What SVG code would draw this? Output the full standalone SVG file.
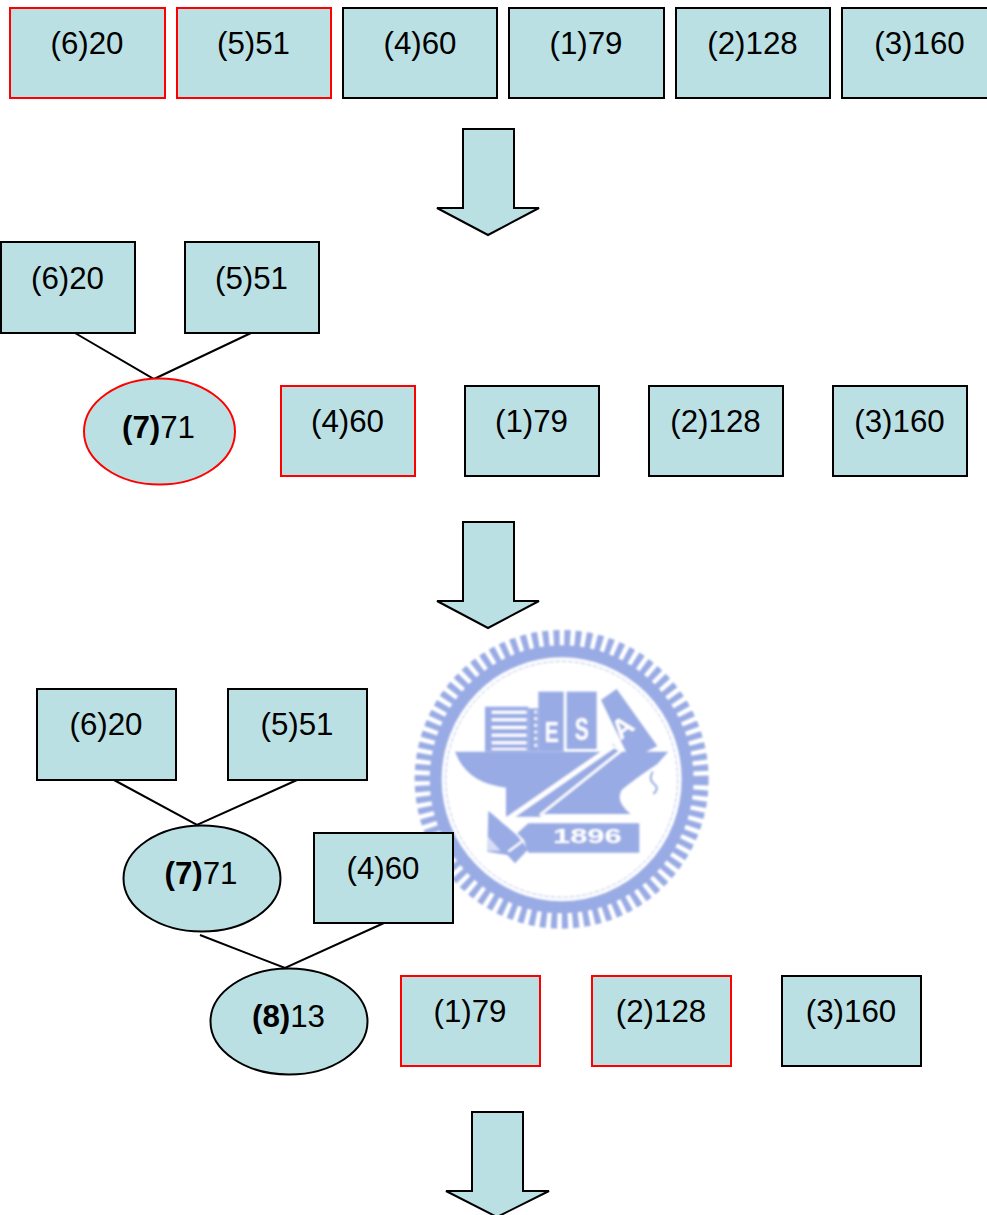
<svg xmlns="http://www.w3.org/2000/svg" width="987" height="1215" viewBox="0 0 987 1215">
<style>
.n{fill:#bbe0e3;stroke:#000;stroke-width:2}
.r{fill:#bbe0e3;stroke:#f00;stroke-width:2}
.t{font-family:"Liberation Sans",Arial,sans-serif;font-size:31.3px;fill:#000;text-anchor:middle}
.b{font-weight:700}
.c{fill:none;stroke:#000;stroke-width:2}
.m{fill:#99abe4}
.w{font-family:"Liberation Sans",Arial,sans-serif;fill:#fff;font-weight:700;text-anchor:middle}
</style>
<defs><filter id="soft" x="-5%" y="-5%" width="110%" height="110%"><feGaussianBlur stdDeviation="2.500"/></filter></defs>
<rect width="987" height="1215" fill="#fff"/>
<g id="watermark" transform="translate(400 620) scale(.3333)" filter="url(#soft)">
<g fill="none" stroke="#99abe4">
<ellipse cx="485" cy="478" rx="416" ry="423" stroke-width="50" stroke-dasharray="18 14"/>
<ellipse cx="485" cy="478" rx="378" ry="384" stroke-width="36"/>
<ellipse cx="485" cy="478" rx="348" ry="354" stroke-width="3" stroke-dasharray="14 5" opacity=".7"/>
</g>
<path class="m" d="M165 395H805L772 432Q700 480 665 510Q645 545 692 582H420L318 590V503Q200 490 165 395Z"/>
<rect class="m" x="255" y="260" width="130" height="135"/>
<path fill="#fff" d="M275 272h105v9h-105zM275 295h105v9h-105zM275 318h105v9h-105zM275 341h105v9h-105zM275 364h105v9h-105zM275 384h105v6h-105z"/>
<path class="m" d="M385 265h30v130h-30z"/>
<path fill="#fff" d="M403 272h8v8h-8zM403 292h8v8h-8zM403 312h8v8h-8zM403 332h8v8h-8zM403 352h8v8h-8zM403 372h8v8h-8z"/>
<rect class="m" x="415" y="215" width="76" height="180"/>
<rect class="m" x="500" y="215" width="90" height="172"/>
<path class="m" d="M603 240L650 207L772 378L690 420Z"/>
<path class="m" d="M320 590L640 372L668 395L420 590Z"/>
<path fill="none" stroke="#fff" stroke-width="15" d="M305 610L640 378"/>
<path fill="none" stroke="#fff" stroke-width="8" d="M640 378L662 393L420 585"/>
<path class="m" d="M265 572L350 645L385 688L345 730L322 705L262 695Z"/>
<path fill="#fff" d="M262 648L302 692L262 692Z" opacity=".6"/>
<path fill="none" stroke="#fff" stroke-width="7" d="M325 695L365 665"/>
<path class="m" d="M352 640L385 610H718V698H385L372 660Z"/>
<path fill="none" stroke="#99abe4" stroke-width="6" d="M758 455Q745 480 762 492Q780 505 760 522"/>
<text class="w" x="455" y="365" font-size="88" textLength="42" lengthAdjust="spacingAndGlyphs">E</text>
<text class="w" x="545" y="360" font-size="92" textLength="42" lengthAdjust="spacingAndGlyphs">S</text>
<text class="w" font-size="82" transform="translate(668 322) rotate(-38) translate(0 28)">A</text>
<text class="w" x="562" y="670" font-size="62" textLength="206" lengthAdjust="spacingAndGlyphs">1896</text>
</g>
<g id="connectors">
<path class="c" d="M75 333L154 379L251 333"/>
<path class="c" d="M114 780L197 825L297 780"/>
<path class="c" d="M200 935L285 968L384 923"/>
</g>
<g id="arrow1"><path class="n" d="M463 129H514V208H539L488 235L437 208H463Z"/></g>
<g id="arrow2"><path class="n" d="M463 522H514V601H539L488 628L437 601H463Z"/></g>
<g id="arrow3"><path class="n" d="M472 1112H523V1191H549L497 1217L446 1191H472Z"/></g>
<g id="r1-6"><rect class="r" x="10" y="8" width="155" height="90"/><text class="t" x="87" y="54">(6)20</text></g>
<g id="r1-5"><rect class="r" x="177" y="8" width="154" height="90"/><text class="t" x="253.500" y="54">(5)51</text></g>
<g id="r1-4"><rect class="n" x="343" y="8" width="154" height="90"/><text class="t" x="420" y="54">(4)60</text></g>
<g id="r1-1"><rect class="n" x="509" y="8" width="155" height="90"/><text class="t" x="586" y="54">(1)79</text></g>
<g id="r1-2"><rect class="n" x="676" y="8" width="154" height="90"/><text class="t" x="752.500" y="54">(2)128</text></g>
<g id="r1-3"><rect class="n" x="842" y="8" width="155" height="90"/><text class="t" x="919.500" y="54">(3)160</text></g>
<g id="r2-6"><rect class="n" x="1" y="242" width="134" height="91"/><text class="t" x="67.500" y="289">(6)20</text></g>
<g id="r2-5"><rect class="n" x="185" y="242" width="134" height="91"/><text class="t" x="251.500" y="289">(5)51</text></g>
<g id="r2-7"><ellipse cx="159.500" cy="431.500" rx="75.500" ry="53" fill="#bbe0e3" stroke="#f00" stroke-width="2"/><text class="t" x="158.500" y="438"><tspan class="b">(7)</tspan>71</text></g>
<g id="r2-4"><rect class="r" x="281" y="386" width="134" height="90"/><text class="t" x="347.500" y="432">(4)60</text></g>
<g id="r2-1"><rect class="n" x="465" y="386" width="134" height="90"/><text class="t" x="531.500" y="432">(1)79</text></g>
<g id="r2-2"><rect class="n" x="649" y="386" width="134" height="90"/><text class="t" x="715.500" y="432">(2)128</text></g>
<g id="r2-3"><rect class="n" x="833" y="386" width="134" height="90"/><text class="t" x="899.500" y="432">(3)160</text></g>
<g id="r3-6"><rect class="n" x="37" y="689" width="139" height="91"/><text class="t" x="106" y="735">(6)20</text></g>
<g id="r3-5"><rect class="n" x="228" y="689" width="139" height="91"/><text class="t" x="297" y="735">(5)51</text></g>
<g id="r3-7"><ellipse cx="202" cy="878.500" rx="78.500" ry="53" class="n"/><text class="t" x="201" y="884"><tspan class="b">(7)</tspan>71</text></g>
<g id="r3-4"><rect class="n" x="314" y="833" width="139" height="90"/><text class="t" x="383" y="879">(4)60</text></g>
<g id="r3-8"><ellipse cx="289" cy="1021.500" rx="78.500" ry="53" class="n"/><text class="t" x="288.500" y="1027"><tspan class="b">(8)</tspan>13</text></g>
<g id="r3-1"><rect class="r" x="401" y="976" width="139" height="90"/><text class="t" x="470" y="1022">(1)79</text></g>
<g id="r3-2"><rect class="r" x="592" y="976" width="139" height="90"/><text class="t" x="661" y="1022">(2)128</text></g>
<g id="r3-3"><rect class="n" x="782" y="976" width="139" height="90"/><text class="t" x="851" y="1022">(3)160</text></g>
</svg>
